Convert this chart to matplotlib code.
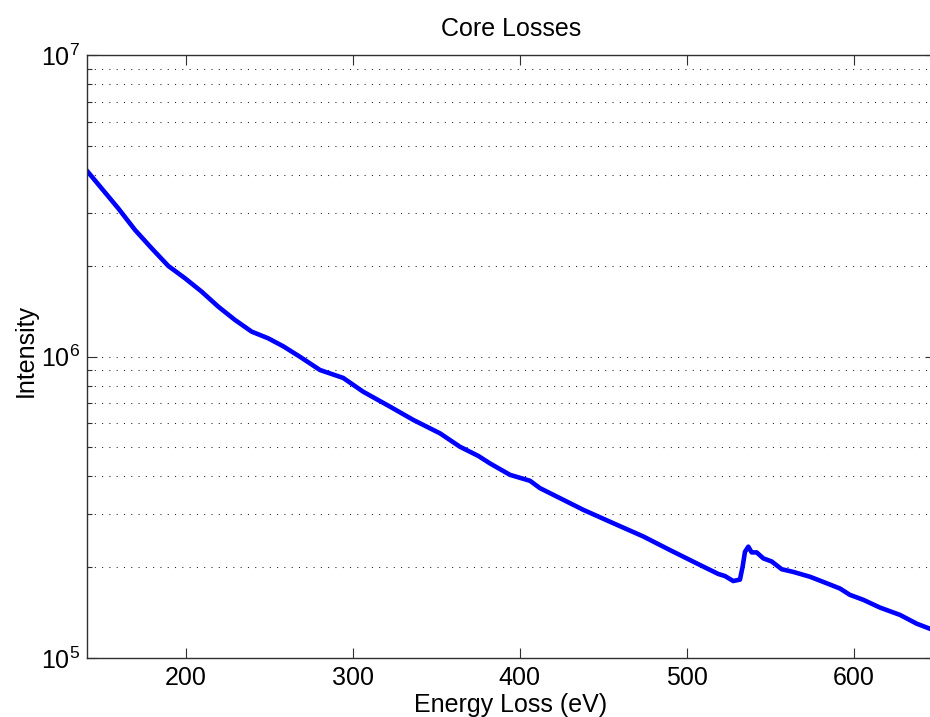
import matplotlib
matplotlib.use("Agg")
import matplotlib.pyplot as plt
from matplotlib.ticker import LogLocator, NullFormatter, FixedLocator

plt.rcParams['font.family'] = ['Liberation Sans', 'DejaVu Sans']
plt.rcParams['mathtext.fontset'] = 'custom'
plt.rcParams['mathtext.rm'] = 'Liberation Sans'
plt.rcParams['mathtext.it'] = 'Liberation Sans'

# Data
energy = [140.7, 159.6, 169.6, 179.6, 189.6, 199.6, 209.6, 219.5, 229.5, 239.5,
          249.4, 258.4, 268.4, 280.4, 294.3, 306.3, 322.3, 336.3, 352.3, 364.2,
          375.2, 382.2, 394.2, 406.2, 412.1, 424.1, 438.1, 456.0, 474.0, 490.0,
          506.0, 518.9, 522.9, 527.9, 531.9, 533.5, 534.9, 536.9, 538.9, 541.9,
          545.9, 550.9, 556.9, 563.8, 573.8, 583.8, 591.8, 597.7, 605.7, 615.7,
          627.7, 637.7, 645.7, 649.0]
intensity = [4.14e6, 3.10e6, 2.63e6, 2.285e6, 1.996e6, 1.817e6, 1.640e6, 1.463e6, 1.322e6, 1.209e6,
             1.149e6, 1.081e6, 9.98e5, 9.02e5, 8.49e5, 7.64e5, 6.82e5, 6.16e5, 5.56e5, 5.02e5,
             4.68e5, 4.42e5, 4.05e5, 3.87e5, 3.66e5, 3.39e5, 3.10e5, 2.80e5, 2.53e5, 2.28e5,
             2.06e5, 1.90e5, 1.87e5, 1.80e5, 1.82e5, 2.01e5, 2.25e5, 2.34e5, 2.24e5, 2.24e5,
             2.14e5, 2.09e5, 1.97e5, 1.93e5, 1.86e5, 1.77e5, 1.70e5, 1.62e5, 1.56e5, 1.47e5,
             1.39e5, 1.30e5, 1.25e5, 1.23e5]
x_ticks = [200, 300, 400, 500, 600]
title = "Core Losses"
xlabel = "Energy Loss (eV)"
ylabel = "Intensity"

W, H = 930, 717
fig = plt.figure(figsize=(W / 100, H / 100), dpi=100)
left, right, top, bottom = 86.7, 935.0, 55.0, 658.0
ax = fig.add_axes([left / W, 1 - bottom / H, (right - left) / W, (bottom - top) / H])

ax.plot(energy, intensity, color=(0, 0, 1), lw=3.3, solid_joinstyle='round')

ax.set_yscale('log')
ax.set_xlim(140.7, 648.7)
ax.set_ylim(1e5, 1e7)
ax.xaxis.set_major_locator(FixedLocator(x_ticks))
ax.yaxis.set_major_locator(LogLocator(base=10, numticks=10))
ax.yaxis.set_minor_locator(LogLocator(base=10, subs=range(2, 10), numticks=20))
ax.yaxis.set_minor_formatter(NullFormatter())

for sp in ax.spines.values():
    sp.set_color('#303030')
    sp.set_linewidth(1.0)

ax.tick_params(axis='both', which='major', direction='in', length=7.2, width=0.8,
               color='#303030', labelsize=18, top=True, right=True, pad=5)
ax.tick_params(axis='y', which='minor', direction='in', length=3.6, width=0.8,
               color='#303030', right=True)
ax.tick_params(axis='x', which='major', pad=6)

ax.grid(True, axis='y', which='both', color='#202020', linestyle=(0, (1, 6)), lw=0.75)
ax.grid(False, axis='x')

ax.set_title(title, fontsize=18, pad=14)
fig.text(511 / W, 1 - 711.7 / H, xlabel, ha='center', va='baseline', fontsize=18)
fig.text(33 / W, 1 - 350 / H, ylabel, rotation=90, rotation_mode='anchor',
         ha='center', va='baseline', fontsize=18)

fig.savefig("out.png", dpi=100)
